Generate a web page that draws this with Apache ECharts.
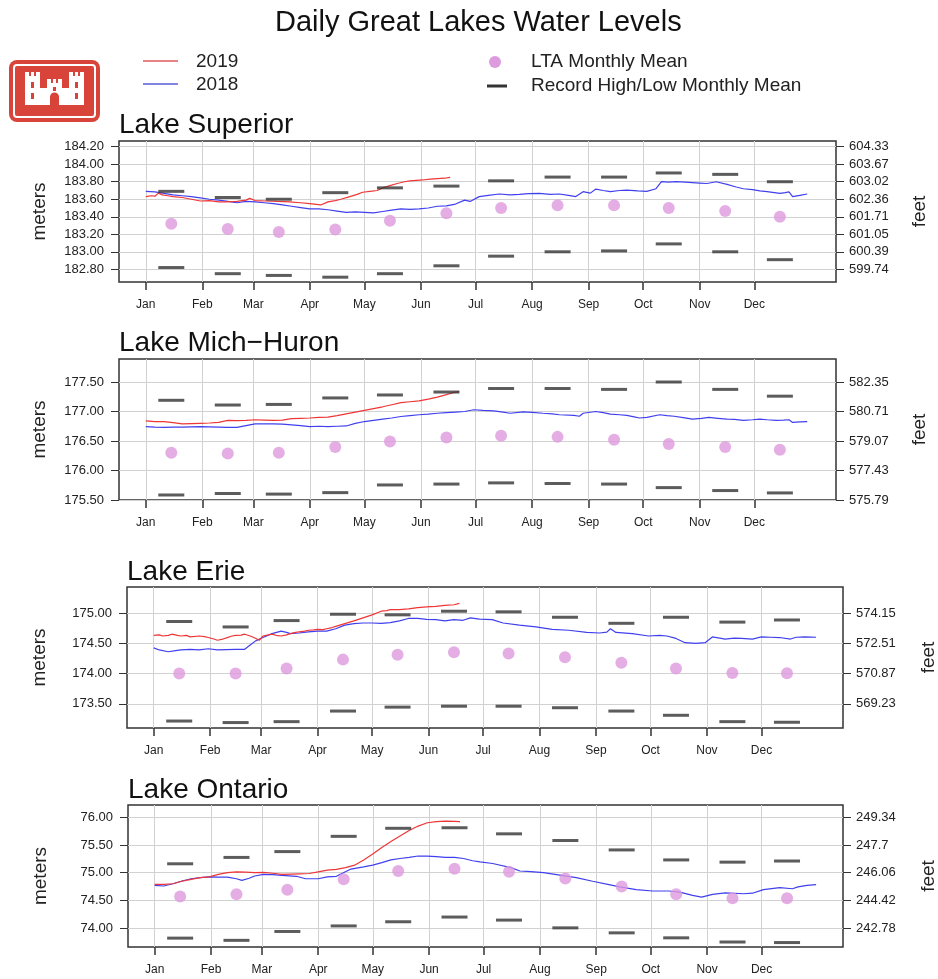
<!DOCTYPE html>
<html>
<head>
<meta charset="utf-8">
<title>Daily Great Lakes Water Levels</title>
<script src="https://cdn.jsdelivr.net/npm/echarts@6/dist/echarts.min.js"></script>
<style>
html, body { margin: 0; padding: 0; background: #fff; }
#chart { width: 938px; height: 979px; }
</style>
</head>
<body>
<div id="chart"></div>
<script>
// month axis (day of year, 0 = Jan 1)
var months = ['Jan', 'Feb', 'Mar', 'Apr', 'May', 'Jun', 'Jul', 'Aug', 'Sep', 'Oct', 'Nov', 'Dec'];
var monthStart = [0, 31, 59, 90, 120, 151, 181, 212, 243, 273, 304, 334];
var monthMid = [14, 45, 73, 104, 134, 165, 195, 226, 257, 287, 318, 348];

// ---- Lake Superior (meters)
var superior2019 = [[0,183.63],[3,183.64],[5,183.635],[7,183.67],[9,183.65],[12,183.64],[15,183.63],[20,183.62],[25,183.60],[30,183.58],[35,183.585],[40,183.57],[44,183.57],[50,183.575],[55,183.59],[57,183.61],[60,183.585],[66,183.58],[72,183.575],[79,183.57],[85,183.56],[90,183.55],[96,183.535],[100,183.57],[104,183.585],[107,183.60],[112,183.63],[116,183.655],[119,183.68],[123,183.69],[127,183.70],[130,183.73],[134,183.755],[138,183.78],[142,183.80],[145,183.81],[152,183.82],[156,183.83],[160,183.835],[164,183.84],[167,183.85]];
var superior2018 = [[0,183.69],[5,183.685],[10,183.667],[15,183.65],[20,183.64],[25,183.63],[30,183.615],[35,183.60],[40,183.59],[45,183.575],[50,183.56],[55,183.575],[60,183.57],[65,183.56],[70,183.55],[75,183.535],[80,183.52],[85,183.505],[90,183.49],[95,183.49],[100,183.48],[105,183.465],[110,183.45],[115,183.455],[120,183.45],[125,183.445],[130,183.46],[135,183.475],[140,183.49],[145,183.485],[150,183.49],[155,183.50],[160,183.52],[165,183.525],[170,183.545],[175,183.59],[178,183.575],[183,183.63],[188,183.645],[194,183.66],[200,183.65],[205,183.655],[210,183.665],[216,183.667],[222,183.655],[227,183.66],[232,183.645],[236,183.63],[240,183.686],[244,183.67],[247,183.716],[251,183.70],[255,183.686],[260,183.70],[264,183.705],[270,183.695],[275,183.69],[280,183.72],[283,183.80],[287,183.795],[291,183.80],[296,183.795],[300,183.79],[304,183.785],[308,183.78],[313,183.80],[319,183.77],[324,183.74],[328,183.72],[333,183.71],[337,183.695],[341,183.686],[345,183.675],[348,183.667],[351,183.675],[353,183.685],[355,183.63],[359,183.645],[363,183.66]];
var superiorLTA = [183.32,183.26,183.225,183.255,183.355,183.44,183.50,183.53,183.53,183.50,183.465,183.40];
var superiorHigh = [183.69,183.62,183.60,183.675,183.73,183.75,183.81,183.853,183.853,183.90,183.884,183.80];
var superiorLow = [182.82,182.75,182.73,182.71,182.75,182.84,182.95,183.00,183.01,183.09,183.00,182.91];
var superiorTicks = [182.8, 183.0, 183.2, 183.4, 183.6, 183.8, 184.0, 184.2];

// ---- Lake Mich-Huron
var michHuron2019 = [[0,176.84],[5,176.83],[10,176.83],[15,176.81],[20,176.79],[25,176.795],[30,176.80],[35,176.805],[40,176.815],[45,176.85],[50,176.845],[55,176.85],[60,176.86],[65,176.855],[70,176.85],[75,176.855],[80,176.88],[85,176.885],[90,176.89],[95,176.90],[100,176.905],[105,176.93],[110,176.96],[115,176.99],[120,177.02],[125,177.05],[130,177.08],[135,177.115],[140,177.15],[145,177.165],[150,177.18],[155,177.21],[160,177.245],[165,177.285],[170,177.33],[172,177.335]];
var michHuron2018 = [[0,176.745],[5,176.735],[10,176.73],[15,176.735],[20,176.735],[25,176.74],[30,176.745],[35,176.74],[40,176.735],[45,176.73],[50,176.73],[55,176.76],[60,176.79],[65,176.79],[70,176.79],[75,176.785],[80,176.775],[85,176.76],[90,176.745],[95,176.75],[100,176.745],[105,176.75],[110,176.755],[115,176.80],[120,176.83],[125,176.85],[130,176.87],[135,176.89],[140,176.915],[145,176.93],[150,176.945],[155,176.955],[160,176.97],[165,176.98],[170,176.99],[175,177.00],[180,177.03],[185,177.02],[191,177.01],[196,176.99],[200,176.97],[207,176.995],[212,176.985],[218,176.97],[223,176.96],[227,176.945],[235,176.935],[238,176.92],[240,176.97],[247,177.00],[251,176.98],[255,176.955],[260,176.945],[264,176.935],[268,176.91],[271,176.89],[275,176.90],[282,176.945],[286,176.93],[290,176.92],[295,176.895],[300,176.87],[305,176.885],[309,176.90],[314,176.885],[319,176.87],[323,176.865],[328,176.85],[333,176.86],[337,176.87],[341,176.86],[346,176.85],[350,176.855],[353,176.86],[355,176.815],[359,176.825],[363,176.83]];
var michHuronLTA = [176.30,176.29,176.30,176.40,176.49,176.56,176.59,176.57,176.52,176.45,176.40,176.35];
var michHuronHigh = [177.19,177.11,177.12,177.23,177.28,177.33,177.39,177.39,177.375,177.50,177.375,177.26];
var michHuronLow = [175.585,175.61,175.60,175.625,175.755,175.77,175.79,175.78,175.77,175.71,175.66,175.62];
var michHuronTicks = [175.5, 176.0, 176.5, 177.0, 177.5];

// ---- Lake Erie
var erie2019 = [[0,174.63],[3,174.64],[5,174.62],[8,174.63],[10,174.65],[13,174.63],[15,174.62],[18,174.63],[20,174.605],[25,174.62],[28,174.61],[30,174.595],[33,174.57],[35,174.55],[38,174.57],[40,174.59],[43,174.62],[45,174.63],[48,174.635],[50,174.65],[53,174.62],[55,174.595],[58,174.55],[60,174.62],[63,174.64],[65,174.65],[68,174.625],[70,174.62],[73,174.64],[75,174.66],[78,174.68],[80,174.69],[83,174.70],[85,174.715],[88,174.72],[90,174.73],[93,174.725],[95,174.74],[98,174.76],[100,174.78],[105,174.825],[110,174.87],[115,174.92],[120,174.97],[125,175.03],[128,175.04],[130,175.055],[135,175.055],[140,175.07],[145,175.09],[150,175.10],[155,175.11],[160,175.125],[165,175.137],[168,175.16]];
var erie2018 = [[0,174.425],[3,174.39],[8,174.36],[12,174.38],[15,174.39],[20,174.40],[25,174.39],[30,174.41],[35,174.39],[40,174.395],[45,174.40],[50,174.40],[53,174.47],[56,174.54],[60,174.595],[65,174.66],[70,174.70],[73,174.68],[75,174.66],[80,174.67],[85,174.69],[90,174.70],[95,174.70],[100,174.74],[105,174.80],[110,174.825],[115,174.835],[120,174.835],[125,174.83],[130,174.84],[135,174.87],[140,174.91],[145,174.91],[150,174.895],[155,174.89],[160,174.87],[165,174.89],[170,174.88],[174,174.92],[179,174.90],[186,174.89],[192,174.835],[201,174.80],[210,174.77],[219,174.73],[228,174.715],[238,174.68],[245,174.67],[249,174.685],[251,174.74],[254,174.68],[263,174.66],[272,174.62],[278,174.63],[282,174.62],[287,174.58],[292,174.51],[298,174.50],[303,174.51],[307,174.605],[311,174.585],[314,174.57],[319,174.585],[323,174.58],[329,174.57],[334,174.605],[339,174.60],[344,174.595],[350,174.57],[353,174.60],[358,174.605],[364,174.60]];
var erieLTA = [174.00,174.00,174.085,174.23,174.31,174.35,174.33,174.27,174.18,174.085,174.01,174.005];
var erieHigh = [174.86,174.77,174.875,174.98,174.97,175.03,175.02,174.93,174.83,174.93,174.85,174.885];
var erieLow = [173.215,173.19,173.205,173.38,173.445,173.46,173.46,173.435,173.38,173.31,173.205,173.195];
var erieTicks = [173.5, 174.0, 174.5, 175.0];

// ---- Lake Ontario
var ontario2019 = [[0,74.79],[5,74.79],[10,74.80],[15,74.845],[20,74.88],[25,74.91],[30,74.925],[35,74.97],[40,75.00],[45,75.015],[50,75.01],[55,75.00],[60,75.005],[65,74.99],[70,74.97],[75,74.975],[80,74.98],[85,74.985],[90,75.015],[95,75.045],[100,75.06],[105,75.09],[110,75.135],[115,75.23],[120,75.335],[125,75.455],[130,75.56],[135,75.66],[140,75.76],[145,75.84],[150,75.90],[155,75.92],[160,75.93],[165,75.925],[168,75.92]];
var ontario2018 = [[0,74.77],[5,74.76],[10,74.80],[15,74.85],[20,74.89],[25,74.91],[30,74.925],[35,74.92],[40,74.92],[45,74.89],[48,74.86],[52,74.90],[55,74.94],[60,74.97],[65,74.965],[70,74.95],[78,74.935],[83,74.89],[90,74.89],[95,74.925],[100,74.935],[103,74.985],[108,75.065],[115,75.105],[120,75.135],[125,75.18],[130,75.23],[135,75.255],[140,75.275],[145,75.30],[150,75.30],[155,75.29],[160,75.275],[165,75.275],[170,75.255],[175,75.215],[179,75.195],[186,75.165],[196,75.09],[201,75.03],[207,75.02],[214,75.00],[223,74.955],[232,74.91],[241,74.845],[250,74.785],[256,74.745],[265,74.695],[274,74.67],[283,74.67],[289,74.65],[296,74.59],[301,74.56],[307,74.61],[314,74.635],[324,74.62],[329,74.63],[335,74.695],[344,74.73],[351,74.71],[354,74.745],[359,74.77],[364,74.785]];
var ontarioLTA = [74.57,74.61,74.69,74.88,75.03,75.07,75.015,74.895,74.75,74.61,74.54,74.54];
var ontarioHigh = [75.16,75.275,75.38,75.655,75.80,75.81,75.70,75.58,75.41,75.23,75.19,75.21];
var ontarioLow = [73.82,73.78,73.94,74.04,74.115,74.20,74.145,74.005,73.915,73.825,73.75,73.74];
var ontarioTicks = [74.0, 74.5, 75.0, 75.5, 76.0];

var lakes = [
  { name: 'Lake Superior', y2019: superior2019, y2018: superior2018, lta: superiorLTA, high: superiorHigh, low: superiorLow, ticks: superiorTicks, min: 182.655, max: 184.265 },
  { name: 'Lake Mich\u2212Huron', y2019: michHuron2019, y2018: michHuron2018, lta: michHuronLTA, high: michHuronHigh, low: michHuronLow, ticks: michHuronTicks, min: 175.5, max: 177.89 },
  { name: 'Lake Erie', y2019: erie2019, y2018: erie2018, lta: erieLTA, high: erieHigh, low: erieLow, ticks: erieTicks, min: 173.10, max: 175.43 },
  { name: 'Lake Ontario', y2019: ontario2019, y2018: ontario2018, lta: ontarioLTA, high: ontarioHigh, low: ontarioLow, ticks: ontarioTicks, min: 73.66, max: 76.22 }
];

// panel layout in pixels
var panels = [
  { left: 119, top: 141, width: 717, height: 141, titleTop: 111, gapL: 70, gapR: 74 },
  { left: 119, top: 359, width: 717, height: 141, titleTop: 329, gapL: 70, gapR: 74 },
  { left: 127, top: 587, width: 716, height: 141, titleTop: 558, gapL: 78, gapR: 76 },
  { left: 128, top: 805, width: 715, height: 142, titleTop: 776, gapL: 78, gapR: 76 }
];

var FONT = 'Liberation Sans';
var RED = '#ee3636';
var BLUE = '#4040ee';
var LTA_COLOR = '#dd9ade';
var DASH_COLOR = '#333333';
var GRID_LINE = '#d2d2d2';
var M_TO_FT = 3.28084;

function toFeet(v) {
  return String(Math.round(v * M_TO_FT * 100) / 100);
}

var grids = [], xAxes = [], yAxes = [], series = [];
var titles = [{
  text: 'Daily Great Lakes Water Levels',
  left: 275, top: 8, padding: 0,
  textStyle: { fontSize: 29, fontWeight: 'normal', color: '#111', fontFamily: FONT }
}];

lakes.forEach(function (lake, i) {
  var p = panels[i];
  grids.push({
    left: p.left, top: p.top, width: p.width, height: p.height,
    outerBoundsMode: 'none', containLabel: false,
    show: true, borderColor: '#333', borderWidth: 1.5, backgroundColor: 'transparent'
  });
  titles.push({
    text: lake.name, left: p.left, top: p.titleTop, padding: 0,
    textStyle: { fontSize: 28, fontWeight: 'normal', color: '#111', fontFamily: FONT }
  });
  xAxes.push({
    type: 'value', gridIndex: i, min: -14.7, max: 378.8,
    axisLine: { show: false, onZero: false },
    axisTick: { show: true, length: 8, customValues: monthStart, lineStyle: { color: '#333', width: 1.5 } },
    axisLabel: {
      customValues: monthStart, margin: 17, fontSize: 12, color: '#222', fontFamily: FONT,
      formatter: function (v) { return months[monthStart.indexOf(Math.round(v))]; }
    },
    splitLine: { show: true, lineStyle: { color: GRID_LINE, width: 1 } }
  });
  yAxes.push({
    type: 'value', gridIndex: i, position: 'left', min: lake.min, max: lake.max,
    name: 'meters', nameLocation: 'middle', nameGap: p.gapL, nameRotate: 90,
    nameTextStyle: { fontSize: 19, color: '#222', fontFamily: FONT },
    axisLine: { show: false, onZero: false },
    axisTick: { show: true, length: 8, customValues: lake.ticks, lineStyle: { color: '#333' } },
    axisLabel: {
      customValues: lake.ticks, margin: 15, fontSize: 13, color: '#222', fontFamily: FONT,
      formatter: function (v) { return v.toFixed(2); }
    },
    splitLine: { show: true, lineStyle: { color: GRID_LINE, width: 1 } }
  });
  yAxes.push({
    type: 'value', gridIndex: i, position: 'right', min: lake.min, max: lake.max,
    name: 'feet', nameLocation: 'middle', nameGap: p.gapR, nameRotate: 90,
    nameTextStyle: { fontSize: 19, color: '#222', fontFamily: FONT },
    axisLine: { show: false, onZero: false },
    axisTick: { show: true, length: 8, customValues: lake.ticks, lineStyle: { color: '#333' } },
    axisLabel: {
      customValues: lake.ticks, margin: 13, fontSize: 13, color: '#222', fontFamily: FONT,
      formatter: toFeet
    },
    splitLine: { show: false }
  });

  series.push({
    name: '2018', type: 'line', xAxisIndex: i, yAxisIndex: 2 * i,
    data: lake.y2018, symbol: 'none', showSymbol: false, z: 3,
    lineStyle: { color: BLUE, width: 1.2 }, itemStyle: { color: BLUE }
  });
  series.push({
    name: '2019', type: 'line', xAxisIndex: i, yAxisIndex: 2 * i,
    data: lake.y2019, symbol: 'none', showSymbol: false, z: 3,
    lineStyle: { color: RED, width: 1.2 }, itemStyle: { color: RED }
  });
  series.push({
    name: 'LTA Monthly Mean', type: 'scatter', xAxisIndex: i, yAxisIndex: 2 * i,
    data: monthMid.map(function (d, k) { return [d, lake.lta[k]]; }),
    symbol: 'circle', symbolSize: 12, z: 4, itemStyle: { color: LTA_COLOR }
  });
  series.push({
    name: 'Record High/Low Monthly Mean', type: 'scatter', xAxisIndex: i, yAxisIndex: 2 * i,
    data: monthMid.map(function (d, k) { return [d, lake.high[k]]; }),
    symbol: 'rect', symbolSize: [26, 3], z: 4, itemStyle: { color: DASH_COLOR }
  });
  series.push({
    name: 'Record High/Low Monthly Mean', type: 'scatter', xAxisIndex: i, yAxisIndex: 2 * i,
    data: monthMid.map(function (d, k) { return [d, lake.low[k]]; }),
    symbol: 'rect', symbolSize: [26, 3], z: 4, itemStyle: { color: DASH_COLOR }
  });
});

// USACE castle logo + legend drawn as graphics
var LOGO_RED = '#d8433a';
function box(x, y, w, h, fill) {
  return { type: 'rect', shape: { x: x, y: y, width: w, height: h }, style: { fill: fill } };
}
var logo = {
  type: 'group', x: 9, y: 60,
  children: [
    { type: 'rect', shape: { x: 0, y: 0, width: 91, height: 62, r: 8 }, style: { fill: LOGO_RED } },
    { type: 'rect', shape: { x: 5, y: 5, width: 81, height: 52, r: 3 }, style: { fill: 'none', stroke: '#fff', lineWidth: 2 } },
    // left tower
    box(16, 16, 15, 29, '#fff'), box(16, 12, 4, 5, '#fff'), box(22, 12, 3, 5, '#fff'), box(27, 12, 4, 5, '#fff'),
    // right tower
    box(60, 16, 15, 29, '#fff'), box(60, 12, 4, 5, '#fff'), box(66, 12, 3, 5, '#fff'), box(71, 12, 4, 5, '#fff'),
    // middle tower and walls
    box(38, 23, 15, 22, '#fff'), box(38, 19, 4, 5, '#fff'), box(44, 19, 3, 5, '#fff'), box(49, 19, 4, 5, '#fff'),
    box(30, 28, 31, 17, '#fff'),
    // gate and windows
    box(41, 37, 9, 8, LOGO_RED),
    { type: 'circle', shape: { cx: 45.5, cy: 37, r: 4.5 }, style: { fill: LOGO_RED } },
    box(22, 22, 3, 6, LOGO_RED), box(66, 22, 3, 6, LOGO_RED),
    box(22, 33, 3, 6, LOGO_RED), box(66, 33, 3, 6, LOGO_RED),
    box(44, 27, 3, 4, LOGO_RED)
  ]
};

function txt(x, y, s) {
  return { type: 'text', x: x, y: y, style: { text: s, fontSize: 19, fill: '#222', fontFamily: FONT, verticalAlign: 'middle' } };
}
var legend = [
  { type: 'line', shape: { x1: 143, y1: 61, x2: 178, y2: 61 }, style: { stroke: '#e05a5a', lineWidth: 1.5 } },
  txt(196, 62, '2019'),
  { type: 'line', shape: { x1: 143, y1: 84, x2: 178, y2: 84 }, style: { stroke: '#5a5ad8', lineWidth: 1.5 } },
  txt(196, 85, '2018'),
  { type: 'circle', shape: { cx: 495, cy: 62, r: 6 }, style: { fill: LTA_COLOR } },
  txt(531, 62, 'LTA Monthly Mean'),
  { type: 'line', shape: { x1: 487, y1: 86, x2: 507, y2: 86 }, style: { stroke: DASH_COLOR, lineWidth: 3 } },
  txt(531, 86, 'Record High/Low Monthly Mean')
];

var chart = echarts.init(document.getElementById('chart'));
chart.setOption({
  animation: false,
  backgroundColor: '#fff',
  textStyle: { fontFamily: FONT },
  title: titles,
  grid: grids,
  xAxis: xAxes,
  yAxis: yAxes,
  series: series,
  graphic: [logo].concat(legend)
});
window.addEventListener('resize', function () { chart.resize(); });
</script>
</body>
</html>
